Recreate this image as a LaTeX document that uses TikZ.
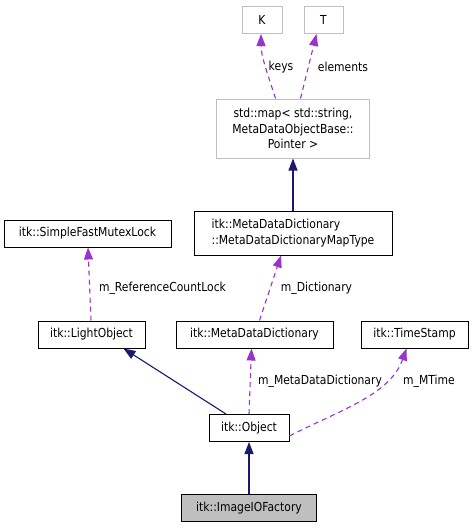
\documentclass[tikz,border=0pt]{standalone}
\usepackage{fontspec}
\setmainfont[FakeStretch=0.87]{DejaVu Sans}
\usetikzlibrary{arrows.meta}
\definecolor{edgeblue}{HTML}{191970}
\definecolor{edgepurple}{HTML}{9A32CD}
\definecolor{boxgray}{HTML}{BFBFBF}
\begin{document}
\begin{tikzpicture}[x=1pt,y=-1pt,font=\fontsize{12.4}{15.5}\selectfont,
    cls/.style={draw=black,fill=white,inner sep=0pt,minimum height=27pt,line width=1pt},
    tmpl/.style={cls,draw=boxgray},
    inh/.style={draw=edgeblue,line width=1.1pt,-{Triangle[length=12pt,width=9pt]}},
    mbr/.style={draw=edgepurple,line width=1.1pt,dash pattern=on 5pt off 4pt,-{Triangle[length=12pt,width=9pt]}},
    lbl/.style={inner sep=0pt}]
                \useasboundingbox (0,0) rectangle (473,528);
                % boxes
                \node[tmpl,minimum width=40pt] (K) at (262,20) {K};
                \node[tmpl,minimum width=39pt] (T) at (323.5,20) {T};
                \node[tmpl,minimum width=153pt,minimum height=59pt,align=center] (map) at (293,128.5) {std::map< std::string,\\ MetaDataObjectBase::\\Pointer >};
                \node[cls,minimum width=198pt,minimum height=44pt,align=left] (maptype) at (293,233) {itk::MetaDataDictionary\\::MetaDataDictionaryMapType};
                \node[cls,minimum width=167pt] (mutex) at (87.5,233.5) {itk::SimpleFastMutexLock};
                \node[cls,minimum width=107pt] (light) at (91.5,334.5) {itk::LightObject};
                \node[cls,minimum width=157pt] (dict) at (254.5,334.5) {itk::MetaDataDictionary};
                \node[cls,minimum width=107pt] (stamp) at (414.5,334.5) {itk::TimeStamp};
                \node[cls,minimum width=80pt] (obj) at (249,428) {itk::Object};
                \node[cls,fill=boxgray,minimum width=135pt] (factory) at (249,508) {itk::ImageIOFactory};
                % inheritance
                \draw[inh] (factory.north) -- (obj.south);
                \draw[inh] ([xshift=-23pt]obj.north) -- ([xshift=32pt]light.south);
                \draw[inh] (maptype.north) -- (map.south);
                % members
                \draw[mbr] ([xshift=-17.5pt]map.north) .. controls +(-8,-25) and +(0,22) .. ([xshift=-1pt]K.south);
                \draw[mbr] ([xshift=7.5pt]map.north) -- ([xshift=-7pt]T.south);
                \draw[mbr] ([xshift=5pt]dict.north) -- ([xshift=-12pt]maptype.south);
                \draw[mbr] ([xshift=-0.5pt]light.north) -- ([xshift=0.5pt]mutex.south);
                \draw[mbr] (obj.north) -- ([xshift=-3pt]dict.south);
                \draw[mbr] ([yshift=-8pt]obj.east) .. controls (340,410) and (390,395) .. ([xshift=-8pt]stamp.south);
                % labels
                \node[lbl] (lkeys) at (281,67) {keys};
                \node[lbl] (lelem) at (343,67) {elements};
                \node[lbl] (llock) at (162.5,288) {m\_ReferenceCountLock};
                \node[lbl] (ldict) at (316.5,288) {m\_Dictionary};
                \node[lbl] (lmdd) at (320,381) {m\_MetaDataDictionary};
                \node[lbl] (ltime) at (429,381) {m\_MTime};
            \end{tikzpicture}
\end{document}
